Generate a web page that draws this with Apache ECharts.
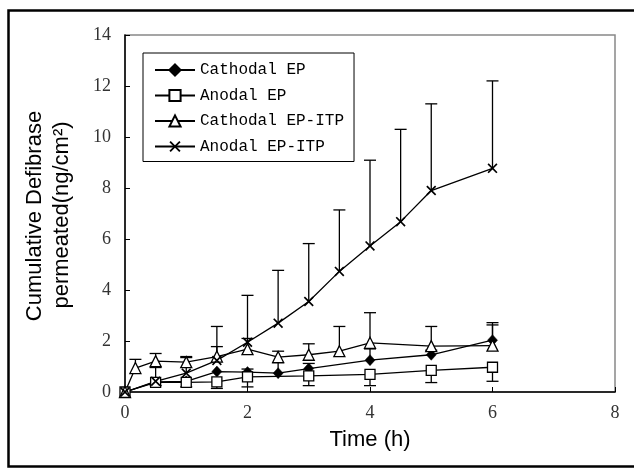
<!DOCTYPE html>
<html><head><meta charset="utf-8">
<script src="https://cdn.jsdelivr.net/npm/echarts@6/dist/echarts.min.js"></script>
<style>html,body{margin:0;padding:0;background:#fff}#c{width:634px;height:470px}</style>
</head><body><div id="c"></div>
<script>
// Cathodal EP (filled diamonds), upper error ends
const cathEP_x   = [0, 0.5, 1, 1.5, 2, 2.5, 3, 4, 5, 6];
const cathEP_y   = [0, 0.40, 0.42, 0.80, 0.78, 0.74, 0.92, 1.25, 1.46, 2.03];
const cathEP_err = [0, 0.40, 0.42, 0.80, 0.90, 1.15, 1.12, 1.69, 1.64, 2.72];
// Anodal EP (open squares), lower error ends
const anEP_x   = [0, 0.5, 1, 1.5, 2, 3, 4, 5, 6];
const anEP_y   = [0, 0.38, 0.38, 0.40, 0.59, 0.63, 0.69, 0.85, 0.97];
const anEP_err = [0, 0.25, 0.20, 0.14, 0.20, 0.25, 0.25, 0.37, 0.42];
// Cathodal EP-ITP (open triangles), upper error ends
const cathITP_x   = [0, 0.17, 0.5, 1, 1.5, 2, 2.5, 3, 3.5, 4, 5, 6];
const cathITP_y   = [0, 0.94, 1.21, 1.17, 1.39, 1.68, 1.37, 1.46, 1.60, 1.93, 1.80, 1.82];
const cathITP_err = [0, 1.28, 1.51, 1.39, 2.57, 2.10, 1.60, 1.89, 2.57, 3.11, 2.57, 2.63];
// Anodal EP-ITP (crosses), upper error ends
const anITP_x   = [0, 0.5, 1, 1.5, 2, 2.5, 3, 3.5, 4, 4.5, 5, 6];
const anITP_y   = [0, 0.42, 0.74, 1.24, 1.95, 2.70, 3.55, 4.73, 5.73, 6.68, 7.90, 8.77];
const anITP_err = [0, 0.96, 1.35, 1.78, 3.79, 4.77, 5.82, 7.14, 9.09, 10.30, 11.30, 12.20];

const seriesNames = ['Cathodal EP', 'Anodal EP', 'Cathodal EP-ITP', 'Anodal EP-ITP'];
const xTicks = {min: 0, max: 8, interval: 2};
const yTicks = {min: 0, max: 14, interval: 2};

function pairs(xs, ys){ return xs.map((x,i)=>[x, ys[i]]); }
function errs(xs, ys, es){
  const out=[]; xs.forEach((x,i)=>{ if (es[i]!==ys[i]) out.push([x, ys[i], es[i]]); }); return out;
}
const errData = [].concat(
  errs(cathEP_x, cathEP_y, cathEP_err),
  errs(anEP_x, anEP_y, anEP_err),
  errs(cathITP_x, cathITP_y, cathITP_err),
  errs(anITP_x, anITP_y, anITP_err)
);

const crossPath = 'path://M0,1.2 L1.2,0 L5,3.8 L8.8,0 L10,1.2 L6.2,5 L10,8.8 L8.8,10 L5,6.2 L1.2,10 L0,8.8 L3.8,5 Z';
const lineStyle = {color:'#000', width:1.3};

const chart = echarts.init(document.getElementById('c'), null, {renderer:'canvas'});
chart.setOption({
  animation:false,
  backgroundColor:'#fff',
  grid:{left:125, top:35, width:490, height:357, show:true, borderColor:'#888', borderWidth:1.5, backgroundColor:'transparent'},
  xAxis:{type:'value', min:xTicks.min, max:xTicks.max, interval:xTicks.interval,
    axisLine:{show:true, onZero:false, lineStyle:{color:'#000', width:1.5}},
    axisTick:{show:true, inside:true, length:5, lineStyle:{color:'#000'}},
    splitLine:{show:false},
    axisLabel:{fontFamily:'Liberation Serif', fontSize:18, color:'#333', margin:12}},
  yAxis:{type:'value', min:yTicks.min, max:yTicks.max, interval:yTicks.interval,
    axisLine:{show:true, onZero:false, lineStyle:{color:'#000', width:1.5}},
    axisTick:{show:true, inside:true, length:5, lineStyle:{color:'#000'}},
    splitLine:{show:false},
    axisLabel:{fontFamily:'Liberation Serif', fontSize:18, color:'#333', margin:14}},
  legend:{data:seriesNames, orient:'vertical', left:143, top:53,
    itemWidth:40, itemHeight:14, itemGap:9.5, padding:[9,10,7,11],
    borderColor:'#000', borderWidth:1, backgroundColor:'#fff',
    textStyle:{fontFamily:'Liberation Mono', fontSize:16, color:'#000'}},
  graphic:[
    {type:'rect', shape:{x:8.5, y:10.5, width:640, height:456}, style:{fill:'none', stroke:'#000', lineWidth:2.5}, silent:true},
    {type:'text', x:35, y:216, rotation:Math.PI/2, style:{text:'Cumulative Defibrase', font:'22px "Liberation Sans"', fill:'#000', align:'center', verticalAlign:'middle'}},
    {type:'text', x:62, y:215, rotation:Math.PI/2, style:{text:'permeated(ng/cm²)', font:'22px "Liberation Sans"', fill:'#000', align:'center', verticalAlign:'middle'}},
    {type:'text', x:370, y:440, style:{text:'Time (h)', font:'22px "Liberation Sans"', fill:'#000', align:'center', verticalAlign:'middle'}}
  ],
  series:[
    {type:'custom', name:'err', silent:true, z:1, data:errData, encode:{x:0, y:1},
      renderItem:function(params, api){
        const x=api.value(0), y=api.value(1), e=api.value(2);
        const p0=api.coord([x,y]), p1=api.coord([x,e]);
        return {type:'group', children:[
          {type:'line', shape:{x1:p0[0], y1:p0[1], x2:p1[0], y2:p1[1]}, style:{stroke:'#000', lineWidth:1.3}},
          {type:'line', shape:{x1:p1[0]-6, y1:p1[1], x2:p1[0]+6, y2:p1[1]}, style:{stroke:'#000', lineWidth:1.3}}
        ]};
      }},
    {type:'line', name:seriesNames[0], data:pairs(cathEP_x, cathEP_y), z:3,
      symbol:'diamond', symbolSize:[10,11], showAllSymbol:true,
      lineStyle:lineStyle, itemStyle:{color:'#000', borderColor:'#000', borderWidth:0.5}},
    {type:'line', name:seriesNames[1], data:pairs(anEP_x, anEP_y), z:3,
      symbol:'rect', symbolSize:10, showAllSymbol:true,
      lineStyle:lineStyle, itemStyle:{color:'#fff', borderColor:'#000', borderWidth:1.3}},
    {type:'line', name:seriesNames[2], data:pairs(cathITP_x, cathITP_y), z:3,
      symbol:'triangle', symbolSize:11, showAllSymbol:true,
      lineStyle:lineStyle, itemStyle:{color:'#fff', borderColor:'#000', borderWidth:1.3}},
    {type:'line', name:seriesNames[3], data:pairs(anITP_x, anITP_y), z:3,
      symbol:crossPath, symbolSize:10, showAllSymbol:true,
      lineStyle:lineStyle, itemStyle:{color:'#000', borderColor:'#000', borderWidth:0}}
  ]
});
</script></body></html>
